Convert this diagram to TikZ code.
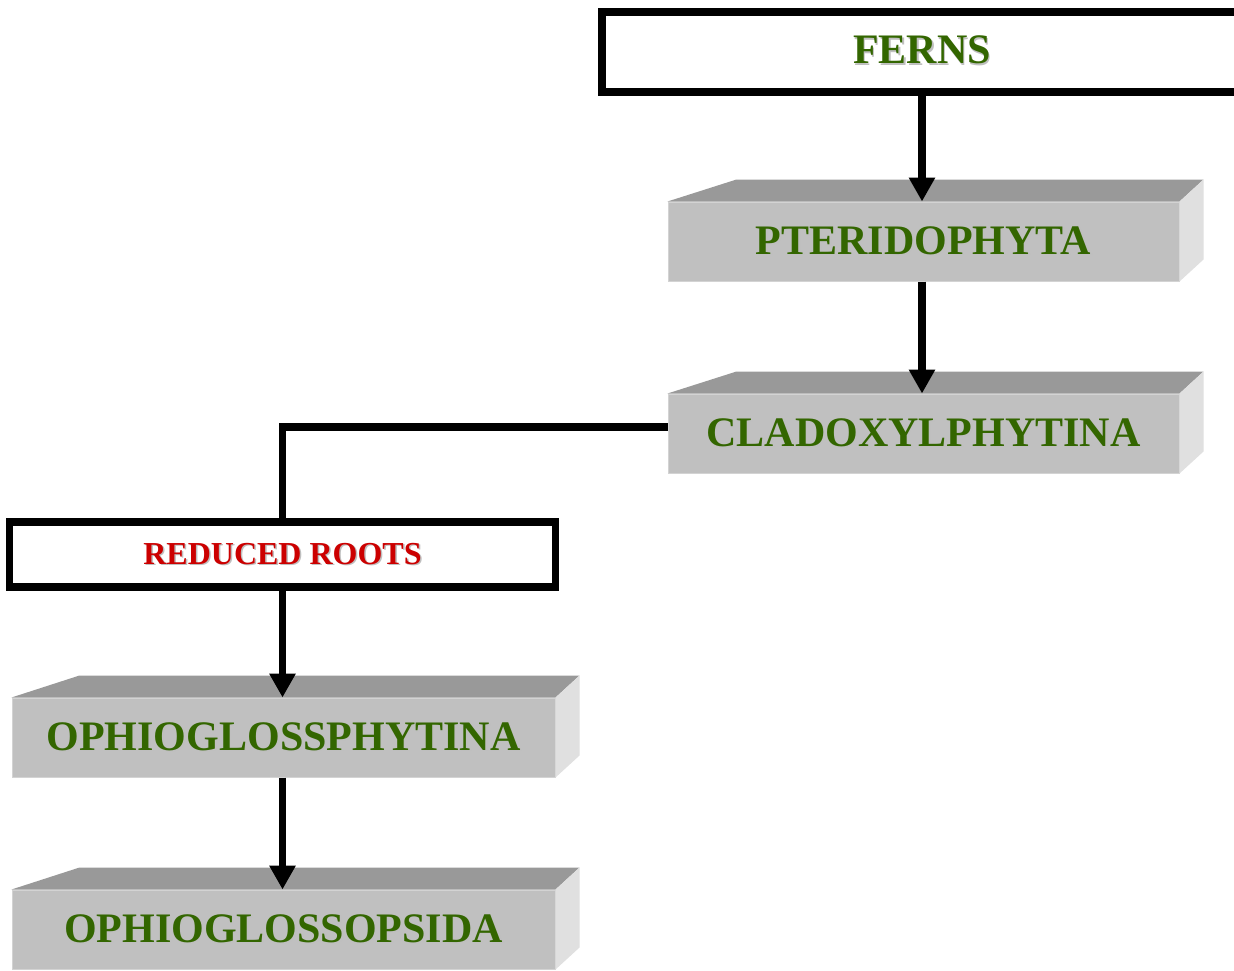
\documentclass[tikz,border=0pt]{standalone}
\usepackage{fontspec}
\setmainfont{Liberation Serif}
\usetikzlibrary{arrows.meta,calc}
\definecolor{fg}{HTML}{336600}
\definecolor{fr}{HTML}{CC0000}
\definecolor{ftop}{HTML}{999999}
\definecolor{ffront}{HTML}{C0C0C0}
\definecolor{fside}{HTML}{E0E0E0}
\newcommand{\shad}[1]{\leavevmode\rlap{\kern1.5pt\raisebox{-1.5pt}{\color{black!25}#1}}#1}
\tikzset{
  face/.style={fill=ffront, draw=ffront!70!white, line width=1pt, minimum width=511pt, minimum height=79pt, inner sep=0pt,
    font=\fontsize{42}{42}\selectfont\bfseries, text=fg},
  outlined/.style={draw=black, line width=7.5pt, fill=white, inner sep=0pt},
  link/.style={line width=7.5pt, -{Triangle[length=24pt,width=25pt]}},
  plain/.style={line width=7.5pt, line join=miter}
}
\begin{document}
\begin{tikzpicture}[x=1pt,y=-1pt]
\clip (0,0) rectangle (1234,971);
\fill[white] (0,0) rectangle (1234,971);
% boxes
\node[outlined, minimum width=640pt, minimum height=80pt, text=fg, font=\fontsize{42}{42}\selectfont\bfseries] (ferns) at (922,52) {\raisebox{4pt}{\shad{FERNS}}};
\node[face] (pter) at (923.5,241.5) {\raisebox{2pt}{\shad{PTERIDOPHYTA}}};
\node[face] (clad) at (923.5,433.5) {\raisebox{2pt}{\shad{CLADOXYLPHYTINA}}};
\node[outlined, minimum width=546pt, minimum height=65pt, text=fr, font=\fontsize{32}{32}\selectfont\bfseries] (rr) at (282.5,554.5) {\shad{REDUCED ROOTS}};
\node[face, minimum width=543pt] (oph) at (283.5,737.5) {\raisebox{2pt}{\shad{OPHIOGLOSSPHYTINA}}};
\node[face, minimum width=543pt] (ops) at (283.5,929.5) {\raisebox{2pt}{\shad{OPHIOGLOSSOPSIDA}}};
% 3D faces
\foreach \n/\d in {pter/69, clad/69, oph/68, ops/68}{
  \fill[ftop] (\n.north west) -- ++(\d,-22) -- ($(\n.north east)+(24,-22)$) -- (\n.north east) -- cycle;
  \fill[fside] (\n.north east) -- ++(24,-22) -- ($(\n.south east)+(24,-22)$) -- (\n.south east) -- cycle;
}
% connectors
\draw[link] (ferns.south) -- (ferns.south |- pter.north);
\draw[link] (pter.south -| ferns.south) -- (ferns.south |- clad.north);
\draw[plain] ([yshift=6.5pt]clad.west) -| (rr.north);
\draw[link] (rr.south) -- (rr.south |- oph.north);
\draw[link] (oph.south -| rr.south) -- (rr.south |- ops.north);
\end{tikzpicture}
\end{document}
